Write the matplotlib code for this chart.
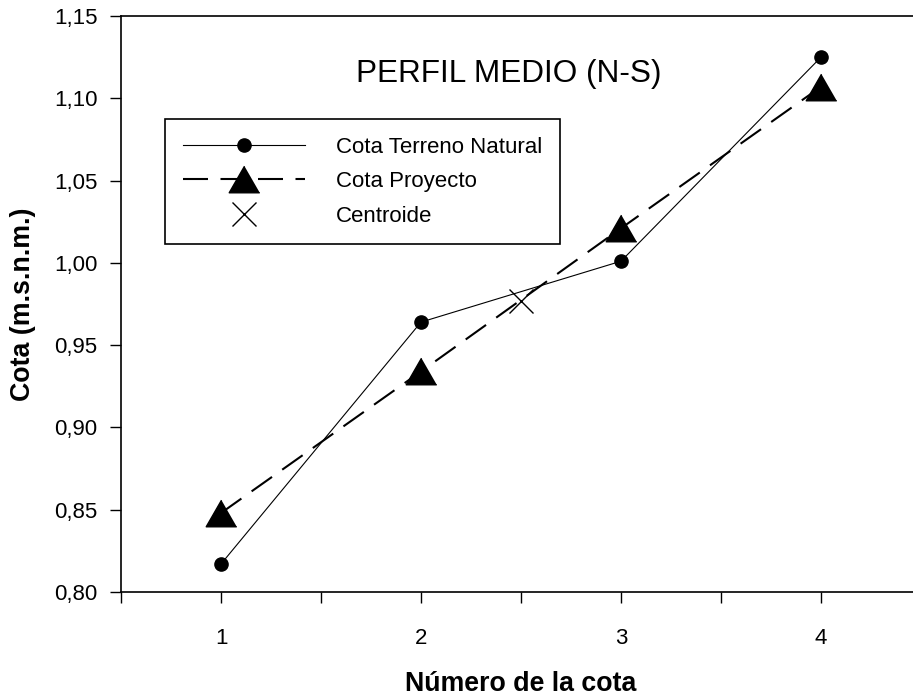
import numpy as np
import matplotlib
matplotlib.use('Agg')
import matplotlib.pyplot as plt
from matplotlib.ticker import FuncFormatter, MultipleLocator

plt.rcParams['font.family'] = ['Liberation Sans', 'DejaVu Sans']

# Data
cotas = [1, 2, 3, 4]
terreno = [0.817, 0.964, 1.001, 1.125]
proyecto = [0.848, 0.934, 1.021, 1.107]
centroide_x = [2.5]
centroide_y = [0.977]

fig = plt.figure(figsize=(9.13, 7), dpi=100)
# right edge of the axes falls just outside the picture, as in the original
ax = fig.add_axes([121 / 913, 108 / 700, 800 / 913, 576 / 700])

tri = [(0, 1), (-1.15, -1), (1.15, -1)]

ax.plot(cotas, terreno, color='black', lw=0.8, marker='o', ms=9.5,
        label='Cota Terreno Natural')
ax.plot(cotas, proyecto, color='black', lw=1.5, ls=(0, (12, 6)),
        marker=tri, ms=22, label='Cota Proyecto')
ax.plot(centroide_x, centroide_y, ls='none', color='black', marker='x',
        ms=17, mew=1.0, label='Centroide')

ax.set_xlim(0.5, 4.5)
ax.set_ylim(0.80, 1.15)

ax.xaxis.set_major_locator(MultipleLocator(1))
ax.xaxis.set_minor_locator(MultipleLocator(0.5))
ax.yaxis.set_major_locator(MultipleLocator(0.05))
ax.yaxis.set_major_formatter(FuncFormatter(lambda v, p: f'{v:.2f}'.replace('.', ',')))

ax.tick_params(axis='both', which='both', direction='out', length=8,
               width=1, labelsize=16)
ax.tick_params(axis='x', which='major', pad=18)
ax.tick_params(axis='y', pad=9)
for s in ['left', 'bottom', 'top']:
    ax.spines[s].set_linewidth(1.2)
ax.spines['right'].set_visible(False)

ax.set_xlabel('Número de la cota', fontsize=19.3, fontweight='bold', labelpad=16)
ax.set_ylabel('Cota (m.s.n.m.)', fontsize=19.3, fontweight='bold', labelpad=13)

ax.text(2.44, 1.115, 'PERFIL MEDIO (N-S)', fontsize=22.7, ha='center', va='center')

leg = ax.legend(loc='upper left', bbox_to_anchor=(0.055, 0.821), borderaxespad=0,
                fontsize=16, handlelength=5.5, handletextpad=1.4,
                borderpad=0.8, labelspacing=0.6, fancybox=False,
                edgecolor='black', framealpha=1, markerscale=1.0)
leg.get_frame().set_linewidth(1.2)

fig.savefig('out.png', dpi=100)
